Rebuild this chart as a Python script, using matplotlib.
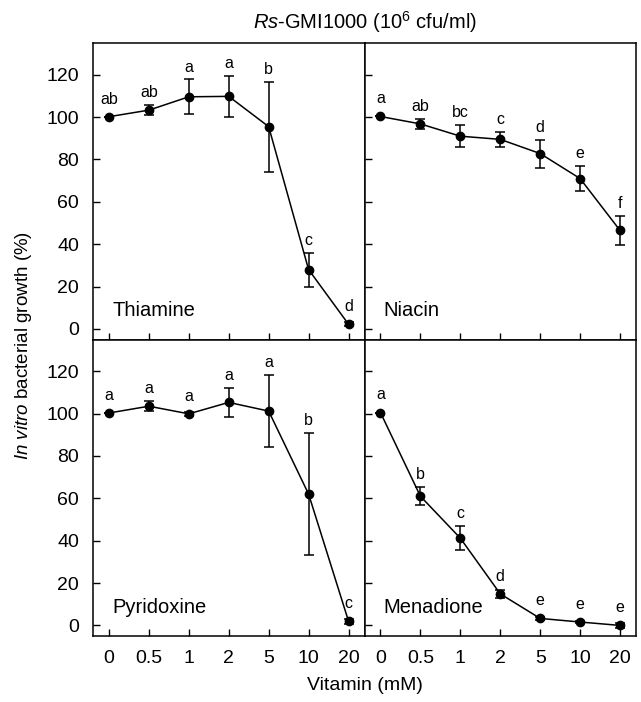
import numpy as np
import matplotlib.pyplot as plt

plt.rcParams['font.family'] = ['Liberation Sans', 'DejaVu Sans']
plt.rcParams['mathtext.fontset'] = 'custom'
plt.rcParams['mathtext.rm'] = 'Liberation Sans'
plt.rcParams['mathtext.it'] = 'Liberation Sans:italic'

doses = ["0", "0.5", "1", "2", "5", "10", "20"]

# Thiamine
thiamine_mean = [100.2, 103.3, 109.6, 109.8, 95.5, 28.0, 2.2]
thiamine_err = [0.0, 2.3, 8.2, 9.8, 21.3, 8.0, 1.0]
thiamine_letters = ["ab", "ab", "a", "a", "b", "c", "d"]

# Niacin
niacin_mean = [100.3, 96.8, 91.0, 89.5, 82.8, 71.0, 46.5]
niacin_err = [0.0, 2.2, 5.2, 3.5, 6.6, 6.1, 6.8]
niacin_letters = ["a", "ab", "bc", "c", "d", "e", "f"]

# Pyridoxine
pyridoxine_mean = [100.3, 103.5, 99.9, 105.3, 101.2, 62.0, 2.0]
pyridoxine_err = [0.0, 2.3, 1.0, 6.7, 17.0, 28.7, 1.2]
pyridoxine_letters = ["a", "a", "a", "a", "a", "b", "c"]

# Menadione
menadione_mean = [100.5, 61.0, 41.2, 14.9, 3.3, 1.6, 0.0]
menadione_err = [0.0, 4.3, 5.8, 2.0, 0.6, 0.6, 1.0]
menadione_letters = ["a", "b", "c", "d", "e", "e", "e"]

panels = [
    ("Thiamine", thiamine_mean, thiamine_err, thiamine_letters),
    ("Niacin", niacin_mean, niacin_err, niacin_letters),
    ("Pyridoxine", pyridoxine_mean, pyridoxine_err, pyridoxine_letters),
    ("Menadione", menadione_mean, menadione_err, menadione_letters),
]

fig = plt.figure(figsize=(6.41, 7.02), dpi=100)

left = 93 / 641
w = (364.5 - 93) / 641
h = 296.5 / 702
bottom = (702 - 636) / 702
positions = [
    (left, bottom + h, w, h),
    (left + w, bottom + h, w, h),
    (left, bottom, w, h),
    (left + w, bottom, w, h),
]

x = np.arange(len(doses))

for i, (name, mean, err, letters) in enumerate(panels):
    ax = fig.add_axes(positions[i])
    ax.errorbar(x, mean, yerr=err, color='black', marker='o', markersize=6,
                linewidth=1.1, elinewidth=1.1, capsize=3.5, capthick=1.1)
    for xi, m, e, lab in zip(x, mean, err, letters):
        ax.text(xi, m + max(e, 2.5) + 2.3, lab, ha='center', va='bottom',
                fontsize=11.5)
    ax.text(0.07, 0.065, name, transform=ax.transAxes, fontsize=14.5,
            ha='left', va='bottom')
    ax.set_xlim(-0.4, 6.4)
    ax.set_ylim(-5, 135)
    ax.set_yticks([0, 20, 40, 60, 80, 100, 120])
    ax.set_xticks(x)
    ax.tick_params(direction='in', length=5, width=1, labelsize=14)
    ax.tick_params(axis='y', pad=10)
    ax.tick_params(axis='x', pad=10)
    if i % 2 == 1:
        ax.set_yticklabels([])
    if i < 2:
        ax.set_xticklabels([])
    else:
        ax.set_xticklabels(doses)
    for s in ax.spines.values():
        s.set_linewidth(1.1)

fig.text(0.5 * (left + left + 2 * w), 1 - 22 / 702,
         r"$\it{Rs}$-GMI1000 (10$^{6}$ cfu/ml)", ha='center', va='center',
         fontsize=14.5)
fig.text(0.5 * (left + left + 2 * w), 1 - 686 / 702, "Vitamin (mM)",
         ha='center', va='center', fontsize=14)
fig.text(24 / 641, 1 - 345 / 702, r"$\it{In\ vitro}$ bacterial growth (%)",
         ha='center', va='center', rotation=90, fontsize=13.5)

fig.savefig("out.png", dpi=100)
